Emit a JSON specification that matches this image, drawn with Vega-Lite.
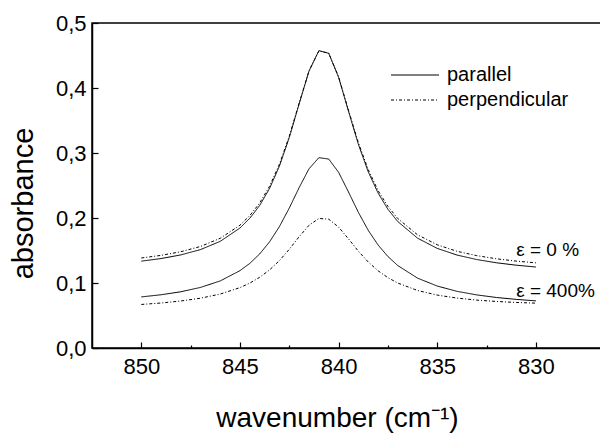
{
  "$schema": "https://vega.github.io/schema/vega-lite/v6.json",
  "width": 509,
  "height": 325,
  "autosize": {"type": "none"},
  "padding": {"left": 92, "top": 23, "right": 0, "bottom": 85},
  "config": {"view": {"stroke": "black", "strokeWidth": 1.5}, "font": "Liberation Sans"},
  "layer": [
    {
      "data": {"values": [
        {"wn": 850, "abs": 0.1336, "pol": "parallel", "strain": "0 %"},
        {"wn": 849, "abs": 0.1376, "pol": "parallel", "strain": "0 %"},
        {"wn": 848, "abs": 0.1432, "pol": "parallel", "strain": "0 %"},
        {"wn": 847, "abs": 0.1514, "pol": "parallel", "strain": "0 %"},
        {"wn": 846, "abs": 0.1641, "pol": "parallel", "strain": "0 %"},
        {"wn": 845, "abs": 0.1846, "pol": "parallel", "strain": "0 %"},
        {"wn": 844.5, "abs": 0.1996, "pol": "parallel", "strain": "0 %"},
        {"wn": 844, "abs": 0.2193, "pol": "parallel", "strain": "0 %"},
        {"wn": 843.5, "abs": 0.2454, "pol": "parallel", "strain": "0 %"},
        {"wn": 843, "abs": 0.2799, "pol": "parallel", "strain": "0 %"},
        {"wn": 842.5, "abs": 0.3238, "pol": "parallel", "strain": "0 %"},
        {"wn": 842, "abs": 0.3756, "pol": "parallel", "strain": "0 %"},
        {"wn": 841.5, "abs": 0.4260, "pol": "parallel", "strain": "0 %"},
        {"wn": 841, "abs": 0.4574, "pol": "parallel", "strain": "0 %"},
        {"wn": 840.5, "abs": 0.4534, "pol": "parallel", "strain": "0 %"},
        {"wn": 840, "abs": 0.4164, "pol": "parallel", "strain": "0 %"},
        {"wn": 839.5, "abs": 0.3643, "pol": "parallel", "strain": "0 %"},
        {"wn": 839, "abs": 0.3135, "pol": "parallel", "strain": "0 %"},
        {"wn": 838.5, "abs": 0.2712, "pol": "parallel", "strain": "0 %"},
        {"wn": 838, "abs": 0.2384, "pol": "parallel", "strain": "0 %"},
        {"wn": 837.5, "abs": 0.2134, "pol": "parallel", "strain": "0 %"},
        {"wn": 837, "abs": 0.1945, "pol": "parallel", "strain": "0 %"},
        {"wn": 836, "abs": 0.1690, "pol": "parallel", "strain": "0 %"},
        {"wn": 835, "abs": 0.1532, "pol": "parallel", "strain": "0 %"},
        {"wn": 834, "abs": 0.1430, "pol": "parallel", "strain": "0 %"},
        {"wn": 833, "abs": 0.1361, "pol": "parallel", "strain": "0 %"},
        {"wn": 832, "abs": 0.1311, "pol": "parallel", "strain": "0 %"},
        {"wn": 831, "abs": 0.1274, "pol": "parallel", "strain": "0 %"},
        {"wn": 830, "abs": 0.1246, "pol": "parallel", "strain": "0 %"},
        {"wn": 850, "abs": 0.1385, "pol": "perpendicular", "strain": "0 %"},
        {"wn": 849, "abs": 0.1425, "pol": "perpendicular", "strain": "0 %"},
        {"wn": 848, "abs": 0.1481, "pol": "perpendicular", "strain": "0 %"},
        {"wn": 847, "abs": 0.1562, "pol": "perpendicular", "strain": "0 %"},
        {"wn": 846, "abs": 0.1688, "pol": "perpendicular", "strain": "0 %"},
        {"wn": 845, "abs": 0.1889, "pol": "perpendicular", "strain": "0 %"},
        {"wn": 844.5, "abs": 0.2037, "pol": "perpendicular", "strain": "0 %"},
        {"wn": 844, "abs": 0.2231, "pol": "perpendicular", "strain": "0 %"},
        {"wn": 843.5, "abs": 0.2489, "pol": "perpendicular", "strain": "0 %"},
        {"wn": 843, "abs": 0.2827, "pol": "perpendicular", "strain": "0 %"},
        {"wn": 842.5, "abs": 0.3259, "pol": "perpendicular", "strain": "0 %"},
        {"wn": 842, "abs": 0.3768, "pol": "perpendicular", "strain": "0 %"},
        {"wn": 841.5, "abs": 0.4264, "pol": "perpendicular", "strain": "0 %"},
        {"wn": 841, "abs": 0.4573, "pol": "perpendicular", "strain": "0 %"},
        {"wn": 840.5, "abs": 0.4534, "pol": "perpendicular", "strain": "0 %"},
        {"wn": 840, "abs": 0.4171, "pol": "perpendicular", "strain": "0 %"},
        {"wn": 839.5, "abs": 0.3659, "pol": "perpendicular", "strain": "0 %"},
        {"wn": 839, "abs": 0.3160, "pol": "perpendicular", "strain": "0 %"},
        {"wn": 838.5, "abs": 0.2745, "pol": "perpendicular", "strain": "0 %"},
        {"wn": 838, "abs": 0.2422, "pol": "perpendicular", "strain": "0 %"},
        {"wn": 837.5, "abs": 0.2178, "pol": "perpendicular", "strain": "0 %"},
        {"wn": 837, "abs": 0.1992, "pol": "perpendicular", "strain": "0 %"},
        {"wn": 836, "abs": 0.1742, "pol": "perpendicular", "strain": "0 %"},
        {"wn": 835, "abs": 0.1588, "pol": "perpendicular", "strain": "0 %"},
        {"wn": 834, "abs": 0.1488, "pol": "perpendicular", "strain": "0 %"},
        {"wn": 833, "abs": 0.1421, "pol": "perpendicular", "strain": "0 %"},
        {"wn": 832, "abs": 0.1372, "pol": "perpendicular", "strain": "0 %"},
        {"wn": 831, "abs": 0.1337, "pol": "perpendicular", "strain": "0 %"},
        {"wn": 830, "abs": 0.1310, "pol": "perpendicular", "strain": "0 %"},
        {"wn": 850, "abs": 0.0786, "pol": "parallel", "strain": "400%"},
        {"wn": 849, "abs": 0.0819, "pol": "parallel", "strain": "400%"},
        {"wn": 848, "abs": 0.0865, "pol": "parallel", "strain": "400%"},
        {"wn": 847, "abs": 0.0932, "pol": "parallel", "strain": "400%"},
        {"wn": 846, "abs": 0.1032, "pol": "parallel", "strain": "400%"},
        {"wn": 845, "abs": 0.1190, "pol": "parallel", "strain": "400%"},
        {"wn": 844.5, "abs": 0.1302, "pol": "parallel", "strain": "400%"},
        {"wn": 844, "abs": 0.1447, "pol": "parallel", "strain": "400%"},
        {"wn": 843.5, "abs": 0.1633, "pol": "parallel", "strain": "400%"},
        {"wn": 843, "abs": 0.1868, "pol": "parallel", "strain": "400%"},
        {"wn": 842.5, "abs": 0.2153, "pol": "parallel", "strain": "400%"},
        {"wn": 842, "abs": 0.2468, "pol": "parallel", "strain": "400%"},
        {"wn": 841.5, "abs": 0.2757, "pol": "parallel", "strain": "400%"},
        {"wn": 841, "abs": 0.2928, "pol": "parallel", "strain": "400%"},
        {"wn": 840.5, "abs": 0.2907, "pol": "parallel", "strain": "400%"},
        {"wn": 840, "abs": 0.2703, "pol": "parallel", "strain": "400%"},
        {"wn": 839.5, "abs": 0.2401, "pol": "parallel", "strain": "400%"},
        {"wn": 839, "abs": 0.2088, "pol": "parallel", "strain": "400%"},
        {"wn": 838.5, "abs": 0.1811, "pol": "parallel", "strain": "400%"},
        {"wn": 838, "abs": 0.1585, "pol": "parallel", "strain": "400%"},
        {"wn": 837.5, "abs": 0.1407, "pol": "parallel", "strain": "400%"},
        {"wn": 837, "abs": 0.1268, "pol": "parallel", "strain": "400%"},
        {"wn": 836, "abs": 0.1075, "pol": "parallel", "strain": "400%"},
        {"wn": 835, "abs": 0.0953, "pol": "parallel", "strain": "400%"},
        {"wn": 834, "abs": 0.0872, "pol": "parallel", "strain": "400%"},
        {"wn": 833, "abs": 0.0817, "pol": "parallel", "strain": "400%"},
        {"wn": 832, "abs": 0.0777, "pol": "parallel", "strain": "400%"},
        {"wn": 831, "abs": 0.0748, "pol": "parallel", "strain": "400%"},
        {"wn": 830, "abs": 0.0725, "pol": "parallel", "strain": "400%"},
        {"wn": 850, "abs": 0.0670, "pol": "perpendicular", "strain": "400%"},
        {"wn": 849, "abs": 0.0692, "pol": "perpendicular", "strain": "400%"},
        {"wn": 848, "abs": 0.0723, "pol": "perpendicular", "strain": "400%"},
        {"wn": 847, "abs": 0.0766, "pol": "perpendicular", "strain": "400%"},
        {"wn": 846, "abs": 0.0830, "pol": "perpendicular", "strain": "400%"},
        {"wn": 845, "abs": 0.0929, "pol": "perpendicular", "strain": "400%"},
        {"wn": 844.5, "abs": 0.0998, "pol": "perpendicular", "strain": "400%"},
        {"wn": 844, "abs": 0.1088, "pol": "perpendicular", "strain": "400%"},
        {"wn": 843.5, "abs": 0.1201, "pol": "perpendicular", "strain": "400%"},
        {"wn": 843, "abs": 0.1345, "pol": "perpendicular", "strain": "400%"},
        {"wn": 842.5, "abs": 0.1519, "pol": "perpendicular", "strain": "400%"},
        {"wn": 842, "abs": 0.1712, "pol": "perpendicular", "strain": "400%"},
        {"wn": 841.5, "abs": 0.1888, "pol": "perpendicular", "strain": "400%"},
        {"wn": 841, "abs": 0.1993, "pol": "perpendicular", "strain": "400%"},
        {"wn": 840.5, "abs": 0.1982, "pol": "perpendicular", "strain": "400%"},
        {"wn": 840, "abs": 0.1860, "pol": "perpendicular", "strain": "400%"},
        {"wn": 839.5, "abs": 0.1679, "pol": "perpendicular", "strain": "400%"},
        {"wn": 839, "abs": 0.1490, "pol": "perpendicular", "strain": "400%"},
        {"wn": 838.5, "abs": 0.1324, "pol": "perpendicular", "strain": "400%"},
        {"wn": 838, "abs": 0.1188, "pol": "perpendicular", "strain": "400%"},
        {"wn": 837.5, "abs": 0.1082, "pol": "perpendicular", "strain": "400%"},
        {"wn": 837, "abs": 0.0999, "pol": "perpendicular", "strain": "400%"},
        {"wn": 836, "abs": 0.0885, "pol": "perpendicular", "strain": "400%"},
        {"wn": 835, "abs": 0.0814, "pol": "perpendicular", "strain": "400%"},
        {"wn": 834, "abs": 0.0768, "pol": "perpendicular", "strain": "400%"},
        {"wn": 833, "abs": 0.0737, "pol": "perpendicular", "strain": "400%"},
        {"wn": 832, "abs": 0.0716, "pol": "perpendicular", "strain": "400%"},
        {"wn": 831, "abs": 0.0701, "pol": "perpendicular", "strain": "400%"},
        {"wn": 830, "abs": 0.0690, "pol": "perpendicular", "strain": "400%"}
      ]},
      "mark": {"type": "line", "color": "black", "strokeWidth": 1, "clip": true},
      "encoding": {
        "x": {
          "field": "wn", "type": "quantitative",
          "scale": {"domain": [826.7, 852.5], "reverse": true, "nice": false, "zero": false},
          "axis": {
            "values": [850, 847.5, 845, 842.5, 840, 837.5, 835, 832.5, 830],
            "labelExpr": "datum.value % 5 === 0 ? format(datum.value, 'd') : ''",
            "tickSize": {"condition": {"test": "datum.value % 5 === 0", "value": -6}, "value": -3},
            "grid": false,
            "domainColor": "black", "domainWidth": 1.5,
            "tickColor": "black", "tickWidth": 1.2,
            "labelFontSize": 22, "labelColor": "black", "labelPadding": 14,
            "title": "wavenumber (cm⁻¹)", "titleFontSize": 28, "titleFontWeight": "normal",
            "titleColor": "black", "titlePadding": 27, "titleX": 245, "titleAlign": "center"
          }
        },
        "y": {
          "field": "abs", "type": "quantitative",
          "scale": {"domain": [0, 0.5], "nice": false, "zero": true},
          "axis": {
            "values": [0, 0.05, 0.1, 0.15, 0.2, 0.25, 0.3, 0.35, 0.4, 0.45, 0.5],
            "labelExpr": "abs(datum.value * 10 - round(datum.value * 10)) < 0.001 ? replace(format(datum.value, '.1f'), '.', ',') : ''",
            "tickSize": {"condition": {"test": "abs(datum.value * 10 - round(datum.value * 10)) < 0.001", "value": -6}, "value": -3},
            "grid": false,
            "domainColor": "black", "domainWidth": 1.5,
            "tickColor": "black", "tickWidth": 1.2,
            "labelFontSize": 22, "labelColor": "black", "labelPadding": 12,
            "title": "absorbance", "titleFontSize": 29, "titleFontWeight": "normal",
            "titleColor": "black", "titlePadding": 17, "titleY": 180, "titleAlign": "center"
          }
        },
        "strokeDash": {
          "field": "pol", "type": "nominal",
          "scale": {"domain": ["parallel", "perpendicular"], "range": [[1, 0], [3, 2, 1, 2]]},
          "legend": {
            "orient": "none", "legendX": 313, "legendY": 42, "title": null,
            "symbolType": "M-4.8,0L4.8,0", "symbolSize": 100, "symbolStrokeWidth": 1,
            "symbolStrokeColor": "black", "labelFontSize": 20, "labelColor": "black",
            "labelOffset": 22, "rowPadding": 5
          }
        },
        "detail": {"field": "strain", "type": "nominal"}
      }
    },
    {
      "data": {"values": [
        {"wn": 831.0, "abs": 0.142, "label": "ε = 0 %"},
        {"wn": 831.0, "abs": 0.078, "label": "ε = 400%"}
      ]},
      "mark": {"type": "text", "align": "left", "baseline": "alphabetic", "fontSize": 19, "color": "black"},
      "encoding": {
        "x": {"field": "wn", "type": "quantitative"},
        "y": {"field": "abs", "type": "quantitative"},
        "text": {"field": "label", "type": "nominal"}
      }
    }
  ]
}
